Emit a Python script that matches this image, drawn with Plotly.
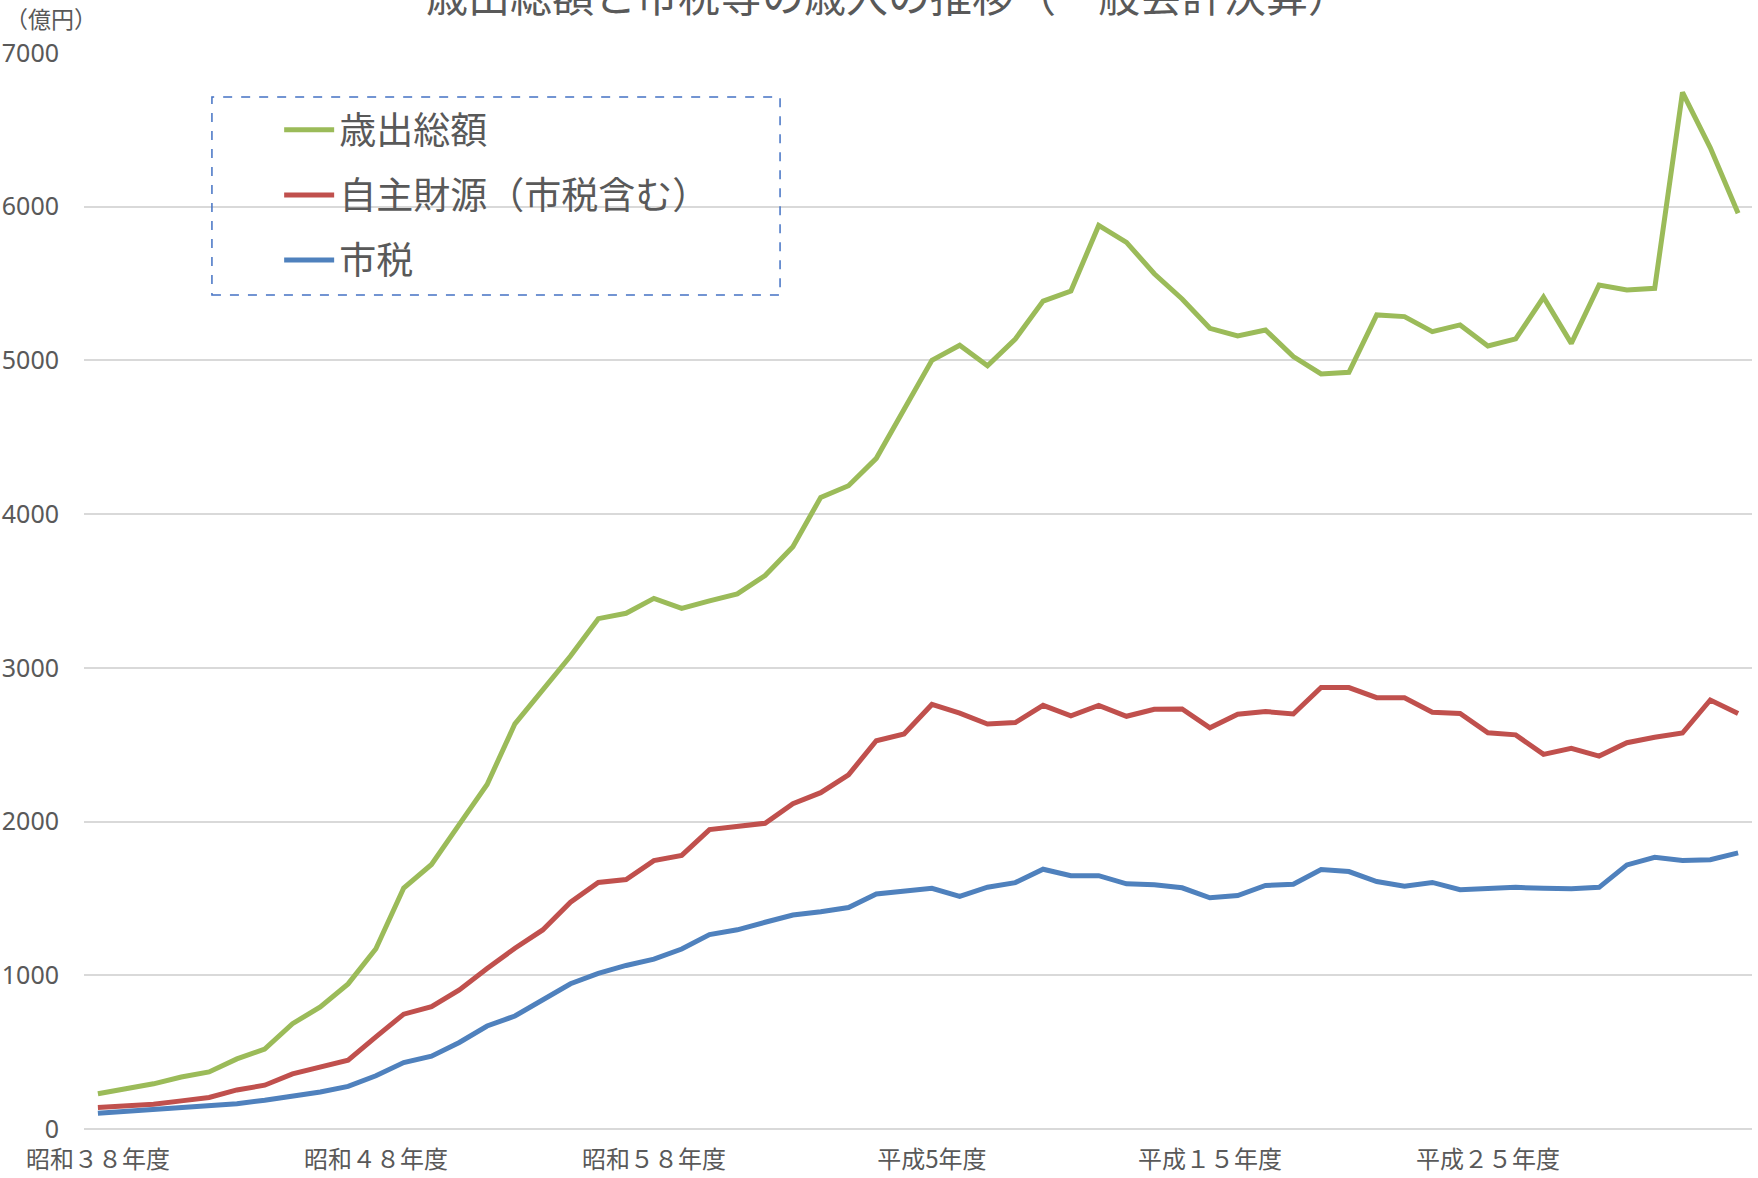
import plotly.graph_objects as go

# Fiscal years 昭和38年度 (1963) .. 令和4年度 (2022)
fiscal_years = list(range(1963, 2023))

def era_label(y):
    if y <= 1988:
        return f"昭和{y - 1925}年度"
    if y <= 2018:
        return f"平成{y - 1988}年度"
    return f"令和{y - 2018}年度"

categories = [era_label(y) for y in fiscal_years]

tick_positions = ["昭和38年度", "昭和48年度", "昭和58年度", "平成5年度", "平成15年度", "平成25年度"]
tick_labels = ["昭和３８年度", "昭和４８年度", "昭和５８年度", "平成5年度", "平成１５年度", "平成２５年度"]

y_ticks = [0, 1000, 2000, 3000, 4000, 5000, 6000, 7000]

expenditure = [229, 260, 294, 338, 371, 456, 520, 685, 794, 944,
               1173, 1568, 1721, 1982, 2241, 2636, 2851, 3077, 3320, 3355,
               3452, 3387, 3436, 3481, 3601, 3788, 4109, 4185, 4363, 4680,
               5001, 5099, 4965, 5139, 5386, 5451, 5878, 5768, 5564, 5400,
               5209, 5159, 5198, 5025, 4912, 4923, 5296, 5285, 5187, 5231,
               5094, 5140, 5411, 5111, 5491, 5458, 5469, 6744, 6383, 5957]

own_revenue = [140, 151, 161, 183, 205, 254, 285, 359, 402, 448,
               599, 747, 796, 905, 1044, 1176, 1295, 1475, 1604, 1623,
               1746, 1780, 1948, 1972, 1989, 2116, 2188, 2304, 2526, 2570,
               2762, 2706, 2635, 2644, 2756, 2688, 2756, 2685, 2730, 2733,
               2610, 2698, 2716, 2700, 2872, 2872, 2806, 2806, 2711, 2703,
               2578, 2564, 2437, 2477, 2426, 2513, 2549, 2576, 2791, 2703]

city_tax = [103, 115, 122, 134, 151, 165, 187, 214, 241, 277,
            346, 432, 474, 563, 670, 735, 842, 945, 1013, 1064,
            1105, 1171, 1265, 1296, 1345, 1392, 1414, 1441, 1529, 1548,
            1566, 1513, 1573, 1603, 1690, 1648, 1648, 1595, 1589, 1569,
            1504, 1519, 1584, 1592, 1688, 1675, 1610, 1579, 1604, 1557,
            1565, 1572, 1566, 1563, 1572, 1718, 1768, 1747, 1752, 1796]

series = [
    ("歳出総額", expenditure, "#9bbb59"),
    ("自主財源（市税含む）", own_revenue, "#c0504d"),
    ("市税", city_tax, "#4f81bd"),
]

fig = go.Figure()
for i, (name, vals, color) in enumerate(series):
    fig.add_trace(go.Scatter(
        x=categories, y=vals, name=name, mode="lines",
        line=dict(color=color, width=5), legendgroup=f"g{i}",
    ))

label_color = "#595959"
cjk = "Noto Sans CJK JP"

fig.update_layout(
    width=1758, height=1178,
    margin=dict(l=84, r=6, t=53, b=49),
    paper_bgcolor="white", plot_bgcolor="white",
    font=dict(family=cjk, color=label_color),
    showlegend=True,
    legend=dict(
        x=0.117, y=0.957, xanchor="left", yanchor="top",
        font=dict(size=37, family=cjk, color=label_color),
        bgcolor="rgba(0,0,0,0)", borderwidth=0,
        tracegroupgap=14, itemwidth=50,
    ),
    xaxis=dict(
        type="category", categoryorder="array", categoryarray=categories,
        range=[-0.5, len(categories) - 0.5],
        tickmode="array", tickvals=tick_positions, ticktext=tick_labels,
        showgrid=False, showline=False, zeroline=False, ticks="",
        tickfont=dict(size=24, family=cjk, color=label_color),
        ticklabelstandoff=14, automargin=False,
    ),
    yaxis=dict(
        range=[0, 7000], tickmode="array", tickvals=y_ticks,
        showgrid=True, gridcolor="#d9d9d9", gridwidth=1.5,
        zeroline=True, zerolinecolor="#d9d9d9", zerolinewidth=2,
        showline=False, ticks="",
        tickfont=dict(size=25, family="Noto Sans, " + cjk, color=label_color),
        ticklabelstandoff=24, automargin=False,
    ),
    shapes=[dict(
        type="rect", xref="paper", yref="paper",
        x0=0.0767, x1=0.4173, y0=0.775, y1=0.959,
        line=dict(color="#4472c4", width=1.5, dash="dash"),
        fillcolor="rgba(0,0,0,0)", layer="above",
    )],
    annotations=[
        dict(text="歳出総額と市税等の歳入の推移（一般会計決算）",
             xref="paper", yref="paper", x=0.482, y=1.0557,
             xanchor="center", yanchor="middle", showarrow=False,
             font=dict(size=42, family=cjk, color=label_color)),
        dict(text="（億円）",
             xref="paper", yref="paper", x=-0.02, y=1.0325,
             xanchor="center", yanchor="middle", showarrow=False,
             font=dict(size=23, family=cjk, color=label_color)),
    ],
)

fig.write_html("out.html", config={"displayModeBar": False},
               post_script="document.body.style.margin='0';")
